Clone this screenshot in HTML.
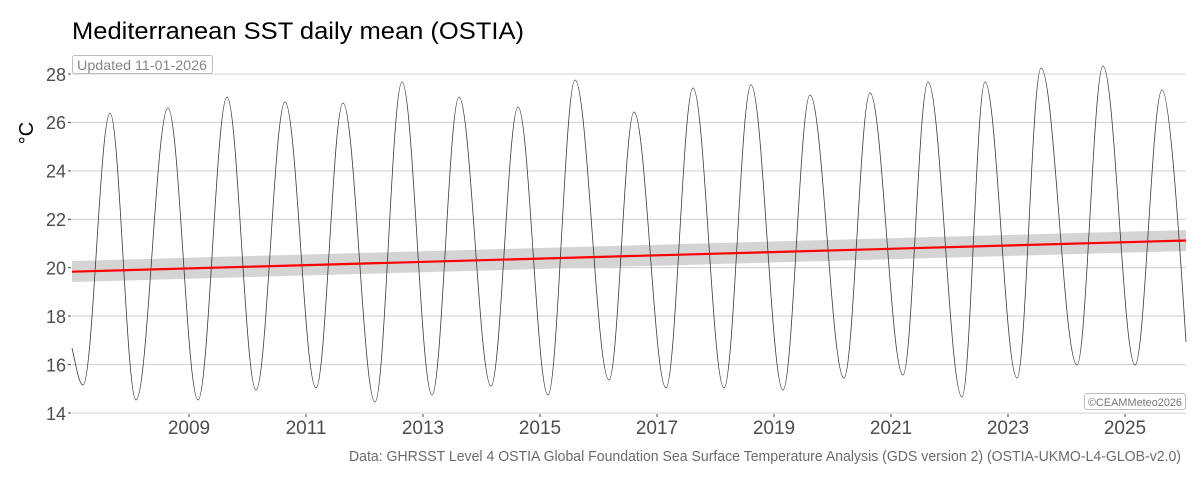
<!DOCTYPE html>
<html>
<head>
<meta charset="utf-8">
<style>
  html, body { margin:0; padding:0; background:#ffffff; }
  svg { display:block; }
  text { font-family: "Liberation Sans", Arial, sans-serif; }
</style>
</head>
<body>
<svg width="1200" height="480" viewBox="0 0 1200 480" xmlns="http://www.w3.org/2000/svg">
  <rect width="1200" height="480" fill="#ffffff"/>

  <!-- Title -->
  <text x="72" y="39" font-size="24.5" fill="#000000" textLength="452" lengthAdjust="spacingAndGlyphs">Mediterranean SST daily mean (OSTIA)</text>

  <!-- Horizontal gridlines -->
  <g stroke="#d3d3d3" stroke-width="1.1">
    <line x1="72" y1="74" x2="1186" y2="74"/>
    <line x1="72" y1="122.4" x2="1186" y2="122.4"/>
    <line x1="72" y1="170.9" x2="1186" y2="170.9"/>
    <line x1="72" y1="219.3" x2="1186" y2="219.3"/>
    <line x1="72" y1="267.7" x2="1186" y2="267.7"/>
    <line x1="72" y1="316.1" x2="1186" y2="316.1"/>
    <line x1="72" y1="364.6" x2="1186" y2="364.6"/>
    <line x1="72" y1="413" x2="1186" y2="413"/>
  </g>

  <!-- Y ticks -->
  <g stroke="#444" stroke-width="1">
    <line x1="68" y1="74" x2="71" y2="74"/>
    <line x1="68" y1="122.4" x2="71" y2="122.4"/>
    <line x1="68" y1="170.9" x2="71" y2="170.9"/>
    <line x1="68" y1="219.3" x2="71" y2="219.3"/>
    <line x1="68" y1="267.7" x2="71" y2="267.7"/>
    <line x1="68" y1="316.1" x2="71" y2="316.1"/>
    <line x1="68" y1="364.6" x2="71" y2="364.6"/>
    <line x1="68" y1="413" x2="71" y2="413"/>
  </g>
  <!-- X ticks -->
  <g stroke="#444" stroke-width="1">
    <line x1="189" y1="414" x2="189" y2="417"/>
    <line x1="306" y1="414" x2="306" y2="417"/>
    <line x1="423" y1="414" x2="423" y2="417"/>
    <line x1="540" y1="414" x2="540" y2="417"/>
    <line x1="657" y1="414" x2="657" y2="417"/>
    <line x1="774" y1="414" x2="774" y2="417"/>
    <line x1="891" y1="414" x2="891" y2="417"/>
    <line x1="1008" y1="414" x2="1008" y2="417"/>
    <line x1="1125" y1="414" x2="1125" y2="417"/>
  </g>

  <!-- Y labels -->
  <g font-size="18" fill="#4d4d4d" text-anchor="end">
    <text x="66" y="81">28</text>
    <text x="66" y="129">26</text>
    <text x="66" y="177.5">24</text>
    <text x="66" y="226">22</text>
    <text x="66" y="274.5">20</text>
    <text x="66" y="323">18</text>
    <text x="66" y="371.5">16</text>
    <text x="66" y="420">14</text>
  </g>

  <!-- X labels -->
  <g font-size="19" fill="#4d4d4d" text-anchor="middle">
    <text x="189" y="434">2009</text>
    <text x="306" y="434">2011</text>
    <text x="423" y="434">2013</text>
    <text x="540" y="434">2015</text>
    <text x="657" y="434">2017</text>
    <text x="774" y="434">2019</text>
    <text x="891" y="434">2021</text>
    <text x="1008" y="434">2023</text>
    <text x="1125" y="434">2025</text>
  </g>

  <!-- Y axis title -->
  <text transform="translate(33,133) rotate(-90)" font-size="20" fill="#000000" text-anchor="middle">°C</text>

  <!-- Trend confidence band -->
  <polygon points="72,261 1186,230 1186,251 72,282" fill="#d4d4d4"/>

  <!-- SST series -->
  <path fill="none" stroke="#3a3a3a" stroke-width="0.8" stroke-linejoin="round" d="
    M72,348 C76,365 79,385 83,385
    C92.8,385 100.2,113 110,113
    C119.4,113 126.6,400 136,400
    C147.6,400 156.4,108 168,108
    C178.9,108 187.1,400 198,400
    C208.5,400 216.5,97 227,97
    C237.5,97 245.5,390 256,390
    C266.5,390 274.5,102 285,102
    C296.3,102 304.7,388 316,388
    C325.8,388 333.2,103 343,103
    C354.6,103 363.4,402 375,402
    C384.8,402 392.2,82 402,82
    C412.9,82 421.1,395 432,395
    C441.8,395 449.2,97 459,97
    C470.6,97 479.4,386 491,386
    C500.8,386 508.2,107 518,107
    C528.9,107 537.1,395 548,395
    C557.8,395 565.2,80 575,80
    C587.4,80 596.6,380 609,380
    C618.1,380 624.9,112 634,112
    C645.6,112 654.4,388 666,388
    C675.8,388 683.2,88 693,88
    C704.3,88 712.7,388 724,388
    C733.8,388 741.2,85 751,85
    C762.6,85 771.4,390 783,390
    C792.8,390 800.2,95 810,95
    C822.4,95 831.6,378 844,378
    C853.4,378 860.6,93 870,93
    C882,93 891,375 903,375
    C912.1,375 918.9,82 928,82
    C940.4,82 949.6,397 962,397
    C970.4,397 976.6,82 985,82
    C996.6,82 1005.4,378 1017,378
    C1025.7,378 1032.3,68 1041,68
    C1054.1,68 1063.9,365 1077,365
    C1086.4,365 1093.6,66 1103,66
    C1114.6,66 1123.4,365 1135,365
    C1144.8,365 1152.2,90 1162,90
    C1170,90 1180,250 1186,342"/>

  <!-- Trend line -->
  <line x1="72" y1="271.7" x2="1186" y2="240.5" stroke="#ff0000" stroke-width="2.2"/>

  <!-- Updated label -->
  <rect x="72.5" y="55.5" width="140" height="18" rx="2.5" ry="2.5" fill="#ffffff" stroke="#bdbdbd" stroke-width="1"/>
  <text x="77" y="70" font-size="14" fill="#858585" textLength="130" lengthAdjust="spacingAndGlyphs">Updated 11-01-2026</text>

  <!-- Copyright label -->
  <rect x="1084.5" y="393.5" width="101" height="16" rx="2.5" ry="2.5" fill="#ffffff" stroke="#bdbdbd" stroke-width="1"/>
  <text x="1088" y="406" font-size="11" fill="#777777" textLength="94" lengthAdjust="spacingAndGlyphs">©CEAMMeteo2026</text>

  <!-- Caption -->
  <text x="1181" y="461" font-size="14.5" fill="#6b6b6b" text-anchor="end" textLength="832" lengthAdjust="spacingAndGlyphs">Data: GHRSST Level 4 OSTIA Global Foundation Sea Surface Temperature Analysis (GDS version 2) (OSTIA-UKMO-L4-GLOB-v2.0)</text>
</svg>
</body>
</html>
